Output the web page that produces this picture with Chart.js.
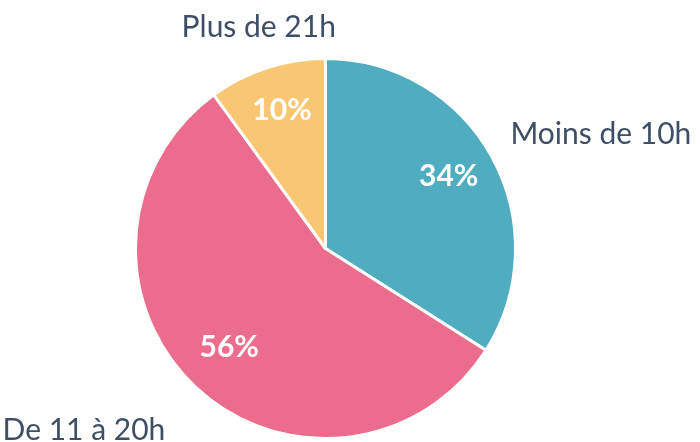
<!DOCTYPE html>
<html lang="fr">
<head>
<meta charset="utf-8">
<title>Temps par semaine</title>
<script src="https://cdn.jsdelivr.net/npm/chart.js@4.4.1/dist/chart.umd.min.js"></script>
<style>
  html, body { margin: 0; padding: 0; background: #ffffff; }
  #wrap { width: 700px; height: 442px; }
</style>
</head>
<body>
<div id="wrap"><canvas id="pie" width="700" height="442"></canvas></div>
<script>
// Données du camembert
const categories = ["Moins de 10h", "De 11 à 20h", "Plus de 21h"];
const parts = [34, 56, 10];
const colors = ["#4fadbf", "#ec6c8d", "#f9c774"];

// placement des étiquettes extérieures (distance au centre, décalage vertical, alignement)
const outerDist = [211, 234, 216];
const outerShift = [-3, 21, -6];
const outerAlign = ["left", "right", "center"];

const labelPlugin = {
  id: "labels",
  afterDatasetsDraw(chart) {
    const ctx = chart.ctx;
    const arcs = chart.getDatasetMeta(0).data;
    ctx.save();
    arcs.forEach((arc, i) => {
      const mid = (arc.startAngle + arc.endAngle) / 2;
      const r = arc.outerRadius;

      // pourcentage dans la part
      const px = arc.x + Math.cos(mid) * r * 0.74;
      const py = arc.y + Math.sin(mid) * r * 0.74 - 4;
      ctx.fillStyle = "#ffffff";
      ctx.font = "bold 30px Lato, sans-serif";
      ctx.textAlign = "center";
      ctx.textBaseline = "middle";
      ctx.fillText(parts[i] + "%", px, py);

      // nom de la catégorie à l'extérieur
      const ox = arc.x + Math.cos(mid) * outerDist[i];
      const oy = arc.y + Math.sin(mid) * outerDist[i] + outerShift[i];
      ctx.fillStyle = "#3e4e67";
      ctx.font = "30px Lato, sans-serif";
      ctx.textAlign = outerAlign[i];
      ctx.textBaseline = "alphabetic";
      ctx.fillText(categories[i], ox, oy);
    });
    ctx.restore();
  }
};

new Chart(document.getElementById("pie"), {
  type: "pie",
  data: {
    labels: categories,
    datasets: [{
      data: parts,
      backgroundColor: colors,
      borderColor: "#ffffff",
      borderWidth: 3
    }]
  },
  options: {
    responsive: false,
    animation: false,
    radius: 190,
    layout: {
      padding: { left: 0, right: 49, top: 55, bottom: 0 }
    },
    plugins: {
      legend: { display: false },
      tooltip: { enabled: false }
    }
  },
  plugins: [labelPlugin]
});
</script>
</body>
</html>
